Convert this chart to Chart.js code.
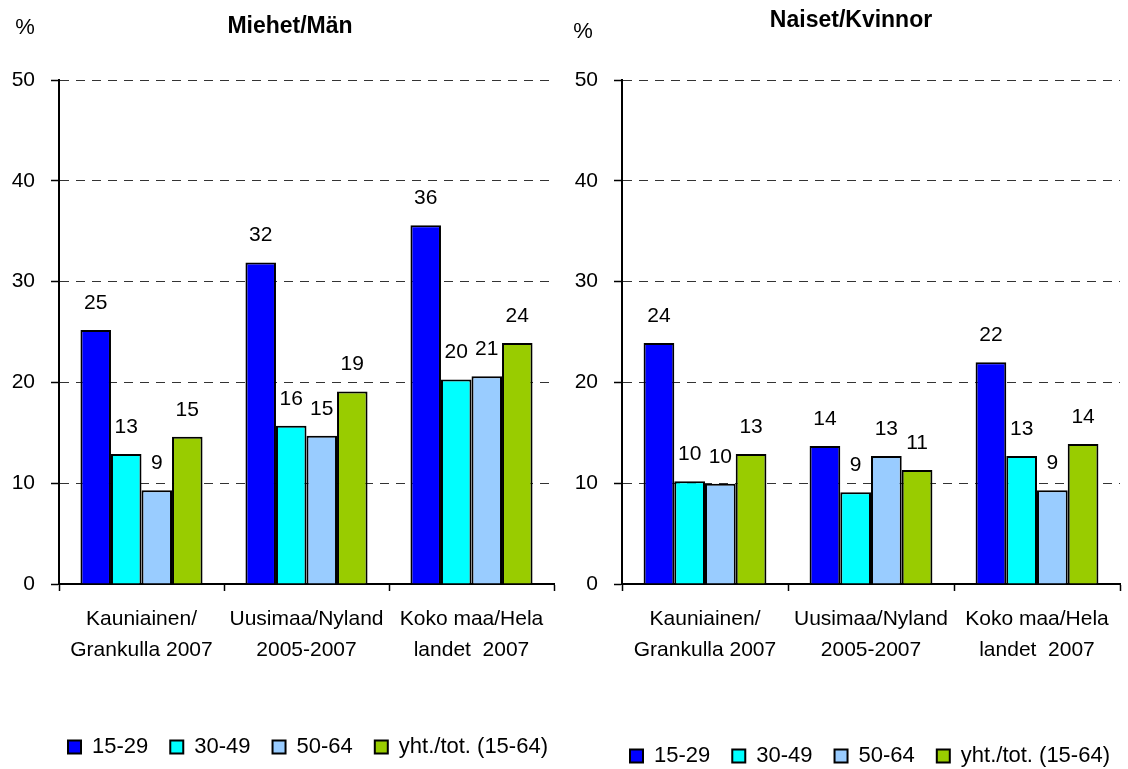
<!DOCTYPE html>
<html>
<head>
<meta charset="utf-8">
<script src="https://cdn.jsdelivr.net/npm/chart.js@4.4.1/dist/chart.umd.min.js"></script>
<style>
  html, body { margin: 0; padding: 0; background: #ffffff; overflow: hidden; }
  #wrap { position: relative; width: 1128px; height: 769px; }
  canvas { position: absolute; left: 0; top: 0; }
</style>
</head>
<body>
<div id="wrap">
  <canvas id="men" width="1128" height="769"></canvas>
  <canvas id="women" width="1128" height="769"></canvas>
</div>
<script>
// ---- data ----
const categories = [
  ['Kauniainen/', 'Grankulla 2007'],
  ['Uusimaa/Nyland', '2005-2007'],
  ['Koko maa/Hela', 'landet  2007']
];
const seriesLabels = ['15-29', '30-49', '50-64', 'yht./tot. (15-64)'];
const seriesColors = ['#0000FF', '#00FFFF', '#99CCFF', '#99CC00'];

const men1529 = [25.2, 31.9, 35.6];
const men3049 = [12.9, 15.7, 20.3];
const men5064 = [9.3, 14.7, 20.6];
const menTot  = [14.6, 19.1, 23.9];

const women1529 = [23.9, 13.7, 22.0];
const women3049 = [10.2, 9.1, 12.7];
const women5064 = [9.95, 12.7, 9.3];
const womenTot  = [12.9, 11.3, 13.9];

const titleMen = 'Miehet/Män';
const titleWomen = 'Naiset/Kvinnor';
const unitLabel = '%';
const yMin = 0, yMax = 50, yStep = 10;

Chart.defaults.font.family = "'Liberation Sans', Arial, sans-serif";
Chart.defaults.color = '#000000';

function makeDatasets(series) {
  return series.map((vals, i) => ({
    label: seriesLabels[i],
    data: vals,
    backgroundColor: seriesColors[i],
    borderColor: '#000000',
    borderWidth: 2,
    categoryPercentage: 0.74,
    barPercentage: 1.0
  }));
}

const decorPlugin = {
  id: 'decor',
  beforeDraw(chart, args, opts) {
    const lg = chart.legend;
    if (lg) {
      const p = chart.options.plugins.legend.labels.padding;
      const h = lg.height;
      lg.left = opts.legendX - p;
      lg.right = lg.left + 1128;
      lg.top = opts.legendCenterY - p - 11;
      lg.bottom = lg.top + h;
    }
  },
  afterDatasetsDraw(chart, args, opts) {
    const ctx = chart.ctx;
    ctx.save();
    ctx.fillStyle = '#000000';
    ctx.textAlign = 'center';
    ctx.textBaseline = 'middle';
    ctx.font = "21px 'Liberation Sans', Arial, sans-serif";
    chart.data.datasets.forEach((ds, di) => {
      const meta = chart.getDatasetMeta(di);
      meta.data.forEach((bar, i) => {
        ctx.fillText(String(Math.round(ds.data[i])), bar.x, bar.y - 27);
      });
    });
    ctx.restore();
  },
  afterDraw(chart, args, opts) {
    const ctx = chart.ctx;
    ctx.save();
    ctx.fillStyle = '#000000';
    ctx.textAlign = 'center';
    ctx.textBaseline = 'middle';
    ctx.font = "bold 23px 'Liberation Sans', Arial, sans-serif";
    ctx.fillText(opts.title, opts.titleX, opts.titleY);
    ctx.font = "22px 'Liberation Sans', Arial, sans-serif";
    ctx.fillText(unitLabel, opts.unitX, opts.unitY);
    ctx.restore();
  }
};

function makeChart(id, series, cfg) {
  return new Chart(document.getElementById(id), {
    type: 'bar',
    data: { labels: categories, datasets: makeDatasets(series) },
    plugins: [decorPlugin],
    options: {
      responsive: false,
      animation: false,
      devicePixelRatio: 1,
      layout: { padding: { left: 0, right: cfg.padRight, top: 80, bottom: 0 } },
      scales: {
        x: {
          afterFit: (s) => { s.height = 131; },
          grid: { offset: true, drawOnChartArea: false, drawTicks: true, tickLength: 7, tickColor: '#000000', tickWidth: 1.5 },
          border: { display: true, color: '#000000', width: 2 },
          ticks: { font: { size: 21, lineHeight: 1.5 }, color: '#000000', padding: 12, maxRotation: 0, autoSkip: false }
        },
        y: {
          min: yMin, max: yMax,
          afterFit: (s) => { s.width = cfg.axisX; },
          grid: {
            color: (c) => (c.tick && c.tick.value === 0) ? 'rgba(0,0,0,0)' : '#333333',
            lineWidth: 1,
            drawTicks: true, tickLength: 8, tickColor: '#000000', tickWidth: 1.5
          },
          border: { display: true, color: '#000000', width: 2, dash: [9, 7] },
          ticks: { stepSize: yStep, font: { size: 21 }, color: '#000000', padding: 16 }
        }
      },
      plugins: {
        legend: {
          position: 'bottom',
          align: 'start',
          labels: { boxWidth: 13, boxHeight: 13, padding: 22, font: { size: 22 }, color: '#000000' }
        },
        tooltip: { enabled: false },
        decor: cfg.decor
      }
    }
  });
}

makeChart('men', [men1529, men3049, men5064, menTot], {
  padRight: 1128 - 554,
  axisX: 59,
  decor: { title: titleMen, titleX: 290, titleY: 27, unitX: 25, unitY: 28, legendX: 68, legendCenterY: 747 }
});
makeChart('women', [women1529, women3049, women5064, womenTot], {
  padRight: 1128 - 1120,
  axisX: 622,
  decor: { title: titleWomen, titleX: 851, titleY: 21, unitX: 583, unitY: 32, legendX: 630, legendCenterY: 756 }
});
</script>
</body>
</html>
